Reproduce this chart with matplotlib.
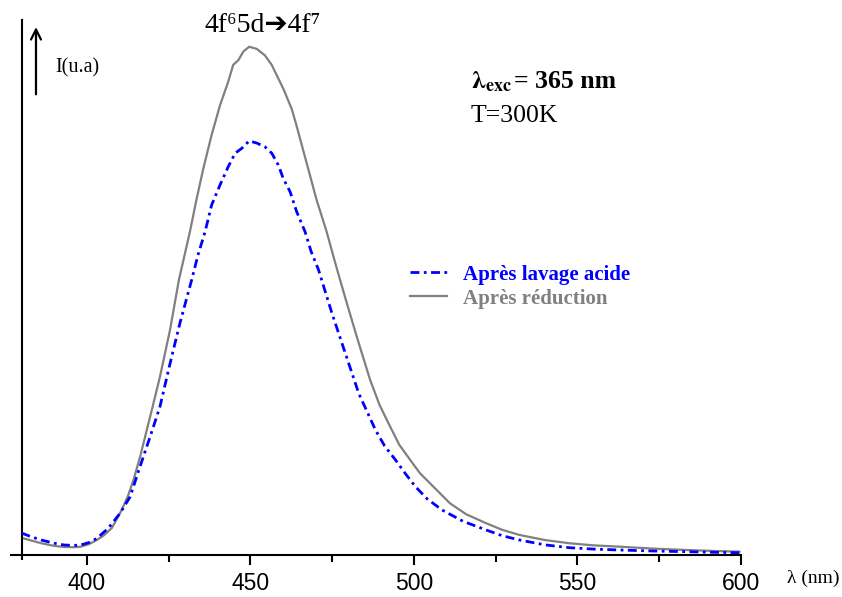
import matplotlib
matplotlib.use("Agg")
import matplotlib.pyplot as plt
from matplotlib.ticker import MultipleLocator

# Data (wavelength in nm, intensity in a.u.)
wl_reduction = [380, 383, 386, 390, 393, 396, 398, 400.5, 403, 405, 407.6, 410.6,
                412.5, 414.2, 416.3, 418.3, 420.3, 422.3, 425.4, 428.1, 431.5,
                433.5, 435.6, 438.1, 440.7, 443.2, 444.7, 446.3, 447.8, 449.6,
                451.9, 454.4, 456.5, 458.0, 460.0, 462.6, 464.1, 467.2, 470.2,
                473.3, 475.5, 477.4, 479.5, 482.5, 486.6, 489.5, 492.7, 495.5,
                498.8, 501.8, 504.9, 511.0, 516.0, 522.1, 527.0, 532.3, 540.0,
                547.6, 555.0, 563.0, 573.0, 583.3, 592.0, 599.5]
int_reduction = [3.2, 2.7, 2.2, 1.7, 1.5, 1.45, 1.55, 2.0, 2.8, 3.6, 5.05, 8.4,
                 11.0, 14.0, 18.5, 23.4, 28.3, 33.3, 42.1, 51.4, 60.5,
                 66.5, 72.3, 78.5, 84.1, 88.5, 91.6, 92.5, 94.1, 95.0,
                 94.6, 93.4, 91.6, 89.7, 87.2, 83.4, 80.2, 73.2, 66.4,
                 60.4, 55.5, 51.4, 47.0, 40.8, 32.7, 28.0, 24.0, 20.6,
                 17.8, 15.3, 13.4, 9.66, 7.6, 5.93, 4.7, 3.74, 2.8,
                 2.19, 1.8, 1.55, 1.2, 0.93, 0.75, 0.62]

wl_acid = [380, 383, 386, 390, 393, 396, 398, 400.5, 403, 406.5, 410.1, 413.2,
           416.2, 419.3, 422.3, 425.4, 428.4, 432.0, 434.0, 436.1, 438.1, 440.7,
           443.2, 445.3, 447.3, 449.6, 451.9, 454.4, 456.5, 458.5, 460.0, 462.1,
           464.1, 466.7, 468.5, 470.8, 474.9, 479.0, 483.1, 488.2, 491.0, 494.3,
           497.5, 500.4, 504.0, 508.6, 515.0, 522.1, 527.0, 532.3, 540.0, 547.6,
           555.0, 563.0, 573.0, 583.3, 592.0, 599.5]
int_acid = [4.1, 3.4, 2.8, 2.2, 1.87, 1.8, 1.87, 2.3, 3.1, 5.0, 7.8, 10.9,
            16.5, 22.1, 27.7, 35.8, 43.3, 51.4, 56.2, 60.4, 65.4, 69.2,
            72.6, 75.1, 76.0, 77.4, 77.0, 76.3, 75.1, 72.9, 70.4, 67.9,
            64.2, 60.4, 56.8, 53.3, 45.2, 37.7, 30.2, 23.4, 20.4, 17.8,
            15.1, 12.8, 10.5, 8.41, 6.3, 4.67, 3.6, 2.80, 1.9, 1.36,
            1.1, 0.93, 0.75, 0.62, 0.5, 0.43]

labels = ["Après lavage acide", "Après réduction"]
x_ticks = [400, 450, 500, 550, 600]

serif = ["Liberation Serif", "DejaVu Sans"]
plt.rcParams["mathtext.fontset"] = "stix"

fig = plt.figure(figsize=(8.42, 5.97), dpi=100)
ax = fig.add_axes([21.6 / 842, 42 / 597, (741 - 21.6) / 842, 535 / 597])

ax.plot(wl_acid, int_acid, color="#0000FF", lw=2.0,
        linestyle=(0, (3.2, 1.6, 1.0, 1.6)), label=labels[0], zorder=3)
ax.plot(wl_reduction, int_reduction, color="#808080", lw=1.6,
        label=labels[1], zorder=2)

ax.set_xlim(380, 600)
ax.set_ylim(0, 100)
for s in ["top", "right"]:
    ax.spines[s].set_visible(False)
for s in ["left", "bottom"]:
    ax.spines[s].set_linewidth(1.5)
ax.set_yticks([])
ax.set_xticks(x_ticks)
ax.xaxis.set_minor_locator(MultipleLocator(25))
ax.tick_params(axis="x", which="major", direction="out", length=7, width=1.5,
               labelsize=16.5, pad=5)
ax.tick_params(axis="x", which="minor", direction="out", length=5, width=1.5)
for lab in ax.get_xticklabels():
    lab.set_fontfamily(["Liberation Sans", "DejaVu Sans"])

# extend spines slightly like the reference
ax.plot([-0.016, 0], [0, 0], transform=ax.transAxes, color="black", lw=1.5,
        clip_on=False, solid_capstyle="butt")
ax.plot([0, 0], [-0.01, 0], transform=ax.transAxes, color="black", lw=1.5,
        clip_on=False, solid_capstyle="butt")

# intensity arrow
ax.annotate("", xy=(0.020, 0.992), xytext=(0.020, 0.856),
            xycoords="axes fraction", textcoords="axes fraction",
            arrowprops=dict(arrowstyle="->", lw=1.6, color="black",
                            mutation_scale=18))
fig.text(55 / 842, 1 - 68 / 597, "I(u.a)", family=serif, fontsize=14.5,
         va="center", ha="left")

# title
fig.text(263 / 842, 1 - 25 / 597, "4f\u20765d\u27944f\u2077",
         family=serif, fontsize=20, ha="center", va="center")

# excitation / temperature
fig.text(471 / 842, 1 - 88 / 597, r"$\mathbf{\lambda}_{\mathbf{exc}}$",
         family=serif, fontsize=18.5, fontweight="bold", ha="left",
         va="baseline")
fig.text(514 / 842, 1 - 88 / 597, "= 365 nm", family=serif, fontsize=18.5,
         fontweight="bold", ha="left", va="baseline")
fig.text(471 / 842, 1 - 122 / 597, "T=300K", family=serif, fontsize=18.5,
         ha="left", va="baseline")

# x axis label
fig.text(787 / 842, 1 - 578 / 597, "λ (nm)", family=serif, fontsize=14,
         ha="left", va="center")

leg = ax.legend(loc="upper left", bbox_to_anchor=(0.514, 0.578), frameon=False,
                prop=dict(family=serif, weight="bold", size=15),
                handlelength=1.75, handletextpad=0.8, labelspacing=0.2,
                labelcolor=["#0000FF", "#808080"])

fig.savefig("out.png", dpi=100)
